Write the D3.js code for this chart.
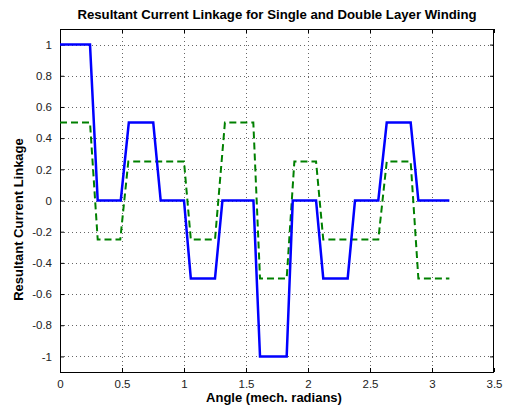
<!DOCTYPE html>
<html>
<head>
<meta charset="utf-8">
<script src="https://cdn.jsdelivr.net/npm/d3@7"></script>
<style>
  html, body { margin: 0; padding: 0; background: #fff; }
  svg { display: block; font-family: "Liberation Sans", Arial, sans-serif; }
</style>
</head>
<body>
<svg id="chart" width="508" height="412"></svg>
<script>
// Single layer winding (solid blue)
const singleX = [0, 0.242, 0.304, 0.49, 0.555, 0.752, 0.812, 1.0, 1.055, 1.25, 1.31, 1.56, 1.613, 1.828, 1.877, 2.065, 2.123, 2.32, 2.379, 2.567, 2.635, 2.828, 2.89, 3.14];
const singleY = [1, 1, 0, 0, 0.5, 0.5, 0, 0, -0.5, -0.5, 0, 0, -1, -1, 0, 0, -0.5, -0.5, 0, 0, 0.5, 0.5, 0, 0];
// Double layer winding (dashed green)
const doubleX = [0, 0.242, 0.304, 0.486, 0.551, 1.0, 1.055, 1.25, 1.33, 1.559, 1.613, 1.828, 1.89, 2.065, 2.123, 2.567, 2.635, 2.828, 2.89, 3.14];
const doubleY = [0.5, 0.5, -0.25, -0.25, 0.25, 0.25, -0.25, -0.25, 0.5, 0.5, -0.5, -0.5, 0.25, 0.25, -0.25, -0.25, 0.25, 0.25, -0.5, -0.5];

const xTicks = [0, 0.5, 1, 1.5, 2, 2.5, 3, 3.5];
const yTicks = [-1, -0.8, -0.6, -0.4, -0.2, 0, 0.2, 0.4, 0.6, 0.8, 1];
const titleText = "Resultant Current Linkage for Single and Double Layer Winding";
const xLabelText = "Angle (mech. radians)";
const yLabelText = "Resultant Current Linkage";

const svg = d3.select("#chart");
const L = 60, R = 494, T = 29, B = 372;

const x = d3.scaleLinear().domain([0, 3.5]).range([L, R]);
const y = d3.scaleLinear().domain([-1.1, 1.1]).range([B, T]);

// grid
const grid = svg.append("g").attr("stroke", "#666").attr("stroke-width", 1).attr("stroke-dasharray", "1,3");
grid.selectAll(".gx").data(xTicks.slice(1, -1)).join("line")
  .attr("x1", d => Math.round(x(d)) + 0.5).attr("x2", d => Math.round(x(d)) + 0.5)
  .attr("y1", T).attr("y2", B);
grid.selectAll(".gy").data(yTicks).join("line")
  .attr("y1", d => Math.round(y(d)) + 0.5).attr("y2", d => Math.round(y(d)) + 0.5)
  .attr("x1", L).attr("x2", R);

// axes
const fmt = d => String(d);
const xAxis = svg.append("g").attr("transform", `translate(0,${B})`)
  .call(d3.axisBottom(x).tickValues(xTicks).tickFormat(fmt).tickSizeInner(-4).tickSizeOuter(0).tickPadding(8));
const xAxisTop = svg.append("g").attr("transform", `translate(0,${T})`)
  .call(d3.axisTop(x).tickValues(xTicks).tickFormat("").tickSizeInner(-4).tickSizeOuter(0));
const yAxis = svg.append("g").attr("transform", `translate(${L},0)`)
  .call(d3.axisLeft(y).tickValues(yTicks).tickFormat(fmt).tickSizeInner(-4).tickSizeOuter(0).tickPadding(8));
const yAxisRight = svg.append("g").attr("transform", `translate(${R},0)`)
  .call(d3.axisRight(y).tickValues(yTicks).tickFormat("").tickSizeInner(-4).tickSizeOuter(0));
[xAxis, xAxisTop, yAxis, yAxisRight].forEach(g => {
  g.select(".domain").remove();
  g.selectAll("line").attr("stroke", "#000");
  g.selectAll("text").attr("font-size", 11.5).attr("fill", "#222")
    .attr("font-family", "Liberation Sans, Arial, sans-serif");
});

// frame
svg.append("rect").attr("x", L + 0.5).attr("y", T + 0.5).attr("width", R - L - 1).attr("height", B - T)
  .attr("fill", "none").attr("stroke", "#000").attr("stroke-width", 1);

// lines
const line = d3.line().x(d => x(d[0])).y(d => y(d[1]));
svg.append("path").datum(doubleX.map((v, i) => [v, doubleY[i]]))
  .attr("d", line).attr("fill", "none").attr("stroke", "#008000")
  .attr("stroke-width", 2).attr("stroke-dasharray", "7,4");
svg.append("path").datum(singleX.map((v, i) => [v, singleY[i]]))
  .attr("d", line).attr("fill", "none").attr("stroke", "#0000ff")
  .attr("stroke-width", 2.5);

// text
svg.append("text").attr("x", (L + R) / 2).attr("y", 19).attr("text-anchor", "middle")
  .attr("font-size", 13.2).attr("font-weight", "bold").text(titleText);
svg.append("text").attr("x", (L + R) / 2 - 3).attr("y", 402).attr("text-anchor", "middle")
  .attr("font-size", 13).attr("font-weight", "bold").text(xLabelText);
svg.append("text").attr("transform", `translate(23,${(T + B) / 2 + 19}) rotate(-90)`)
  .attr("text-anchor", "middle").attr("font-size", 13).attr("font-weight", "bold").text(yLabelText);
</script>
</body>
</html>
